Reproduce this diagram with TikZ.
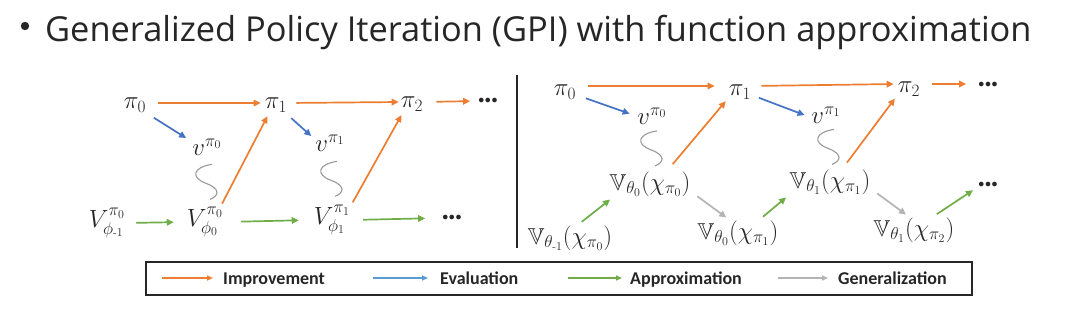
\documentclass[tikz,border=0pt]{standalone}
\usepackage{fontspec}
\usepackage{amsmath,amssymb}
\newfontfamily\titlefont{Open Sans}
\newfontfamily\legfont{Carlito}
\usetikzlibrary{arrows.meta,calc}
\definecolor{cimp}{RGB}{237,125,49}
\definecolor{ceval}{RGB}{68,114,196}
\definecolor{capx}{RGB}{112,173,71}
\definecolor{cgen}{RGB}{180,180,180}
\definecolor{cleval}{RGB}{91,155,213}
\definecolor{ctext}{RGB}{38,38,38}
\begin{document}
\begin{tikzpicture}[x=1pt,y=-1pt,
  mnode/.style={inner sep=1pt, text=ctext, font=\fontsize{23}{27}\selectfont},
  dots/.style={inner sep=1pt, text=ctext, font=\fontsize{13}{15}\selectfont},
  arr/.style={line width=1.7pt, -{Triangle[length=7pt,width=6.5pt]}, shorten <=3pt, shorten >=3pt},
  imp/.style={arr, draw=cimp},
  eval/.style={arr, draw=ceval},
  apx/.style={arr, draw=capx},
  gen/.style={arr, draw=cgen},
  legarr/.style={line width=1.5pt, -{Triangle[length=6pt,width=5pt]}},
  legtext/.style={anchor=base west, inner sep=0pt, text=ctext, font=\legfont\bfseries\fontsize{18}{20}\selectfont},
  squig/.pic={\draw[cgen!85!black, line width=1.1pt] (6,-17) .. controls (-13,-14) and (-16,-4) .. (0,2) .. controls (16,8) and (12,15) .. (4,18);}
]
\useasboundingbox (0,0) rectangle (1076,320);
% title
\fill[ctext] (25,26) circle (4.2pt);
\node[anchor=base west, inner sep=0pt, text=ctext, font=\titlefont\fontsize{34.4}{40}\selectfont] (title) at (45,42) {Generalized Policy Iteration (GPI) with function approximation};

% ---------- left diagram ----------
\node[mnode] (Lp0) at (135,105) {$\pi_0$};
\node[mnode] (Lp1) at (276,105) {$\pi_1$};
\node[mnode] (Lp2) at (412,104) {$\pi_2$};
\node[dots]  (Ld1) at (488,101) {$\bullet\mkern-3mu\bullet\mkern-3mu\bullet$};
\node[mnode] (Lv0) at (207,147) {$v^{\pi_0}$};
\node[mnode] (Lv1) at (330,143) {$v^{\pi_1}$};
\node[mnode] (LV0) at (107,223) {$V^{\pi_0}_{\phi_{\text{-}1}}$};
\node[mnode] (LV1) at (205,222) {$V^{\pi_0}_{\phi_0}$};
\node[mnode] (LV2) at (332,220) {$V^{\pi_1}_{\phi_1}$};
\node[dots]  (Ld2) at (452,218) {$\bullet\mkern-3mu\bullet\mkern-3mu\bullet$};

\draw[imp, shorten <=11pt, shorten >=3pt] ([yshift=2pt]Lp0.east) -- ([yshift=2pt]Lp1.west);
\draw[imp, shorten <=8pt, shorten >=1pt] ([yshift=2pt]Lp1.east) -- ([yshift=2pt]Lp2.west);
\draw[imp, shorten <=12pt, shorten >=7pt] ([yshift=2pt]Lp2.east) -- (Ld1.west);
\draw[eval, shorten <=8pt, shorten >=6pt] (Lp0.-35) -- (Lv0.160);
\draw[eval, shorten <=7pt, shorten >=4pt] (Lp1.-40) -- (Lv1.165);
\draw[imp, shorten <=3pt] (LV1.45) -- (Lp1.230);
\draw[imp, shorten <=3pt] (LV2.38) -- (Lp2.223);
\draw[apx, shorten <=10pt, shorten >=12pt] (LV0.east) -- (LV1.west);
\draw[apx, shorten <=17pt, shorten >=14pt] (LV1.east) -- (LV2.west);
\draw[apx, shorten <=12pt, shorten >=16pt] (LV2.east) -- (Ld2.west);
\pic at ($(Lv0.south)!0.5!(LV1.north)$) {squig};
\pic at ($(Lv1.south)!0.5!(LV2.north)$) {squig};

% separator
\draw[line width=2.4pt, ctext] (517,75) -- (517,248);

% ---------- right diagram ----------
\node[mnode] (Rp0) at (565,92) {$\pi_0$};
\node[mnode] (Rp1) at (740,92) {$\pi_1$};
\node[mnode] (Rp2) at (909,89) {$\pi_2$};
\node[dots]  (Rd1) at (988,85) {$\bullet\mkern-3mu\bullet\mkern-3mu\bullet$};
\node[mnode] (Rv0) at (652,116) {$v^{\pi_0}$};
\node[mnode] (Rv1) at (826,115) {$v^{\pi_1}$};
\node[mnode] (RA0) at (650,184) {$\mathbb{V}_{\theta_0}(\chi_{\pi_0})$};
\node[mnode] (RA1) at (830,182) {$\mathbb{V}_{\theta_1}(\chi_{\pi_1})$};
\node[dots]  (Rd2) at (988,185) {$\bullet\mkern-3mu\bullet\mkern-3mu\bullet$};
\node[mnode] (RB0) at (570,238) {$\mathbb{V}_{\theta_{\text{-}1}}(\chi_{\pi_0})$};
\node[mnode] (RB1) at (738,233) {$\mathbb{V}_{\theta_0}(\chi_{\pi_1})$};
\node[mnode] (RB2) at (914,230) {$\mathbb{V}_{\theta_1}(\chi_{\pi_2})$};

\draw[imp, shorten <=11pt, shorten >=13pt] ([yshift=6pt]Rp0.east) -- ([yshift=6pt]Rp1.west);
\draw[imp, shorten <=9pt, shorten >=3pt] ([yshift=6pt]Rp1.east) -- ([yshift=5pt]Rp2.west);
\draw[imp, shorten <=11pt, shorten >=11pt] ([yshift=5pt]Rp2.east) -- ([yshift=1pt]Rd1.west);
\draw[eval, shorten <=9pt, shorten >=7pt] (Rp0.-15) -- (Rv0.180);
\draw[eval, shorten <=7pt, shorten >=6pt] (Rp1.-15) -- (Rv1.188);
\draw[imp, shorten <=8pt] (RA0.38) -- (Rp1.209);
\draw[imp, shorten <=7pt] (RA1.47) -- (Rp2.210);
\draw[apx, shorten <=4pt] (RB0.58) -- (RA0.200);
\draw[apx, shorten <=4pt] (RB1.32) -- (RA1.198);
\draw[apx, shorten <=4pt, shorten >=5pt] (RB2.35) -- (Rd2.193);
\draw[gen, shorten <=7pt] (RA0.-11) -- (RB1.124);
\draw[gen, shorten <=7pt] (RA1.-10) -- (RB2.112);
\pic at ($(Rv0.south)!0.5!(RA0.north)$) {squig};
\pic at ($(Rv1.south)!0.5!(RA1.north)$) {squig};

% ---------- legend ----------
\node[draw=ctext, line width=1.4pt, minimum width=826pt, minimum height=33pt, inner sep=0pt] (leg) at (559,278.5) {};
\node[legtext] (tI) at (223,284) {Improvement};
\node[legtext] (tE) at (440,284) {Evaluation};
\node[legtext] (tA) at (630,284) {Approximation};
\node[legtext] (tG) at (838,284) {Generalization};
\coordinate (aI) at (162,278);
\coordinate (aE) at (373,278);
\coordinate (aA) at (568,278);
\coordinate (aG) at (778,278);
\draw[legarr, draw=cimp] (aI) -- ([xshift=-10pt]aI -| tI.west);
\draw[legarr, draw=cleval] (aE) -- ([xshift=-12pt]aE -| tE.west);
\draw[legarr, draw=capx] (aA) -- ([xshift=-8pt]aA -| tA.west);
\draw[legarr, draw=cgen] (aG) -- ([xshift=-10pt]aG -| tG.west);
\end{tikzpicture}
\end{document}
